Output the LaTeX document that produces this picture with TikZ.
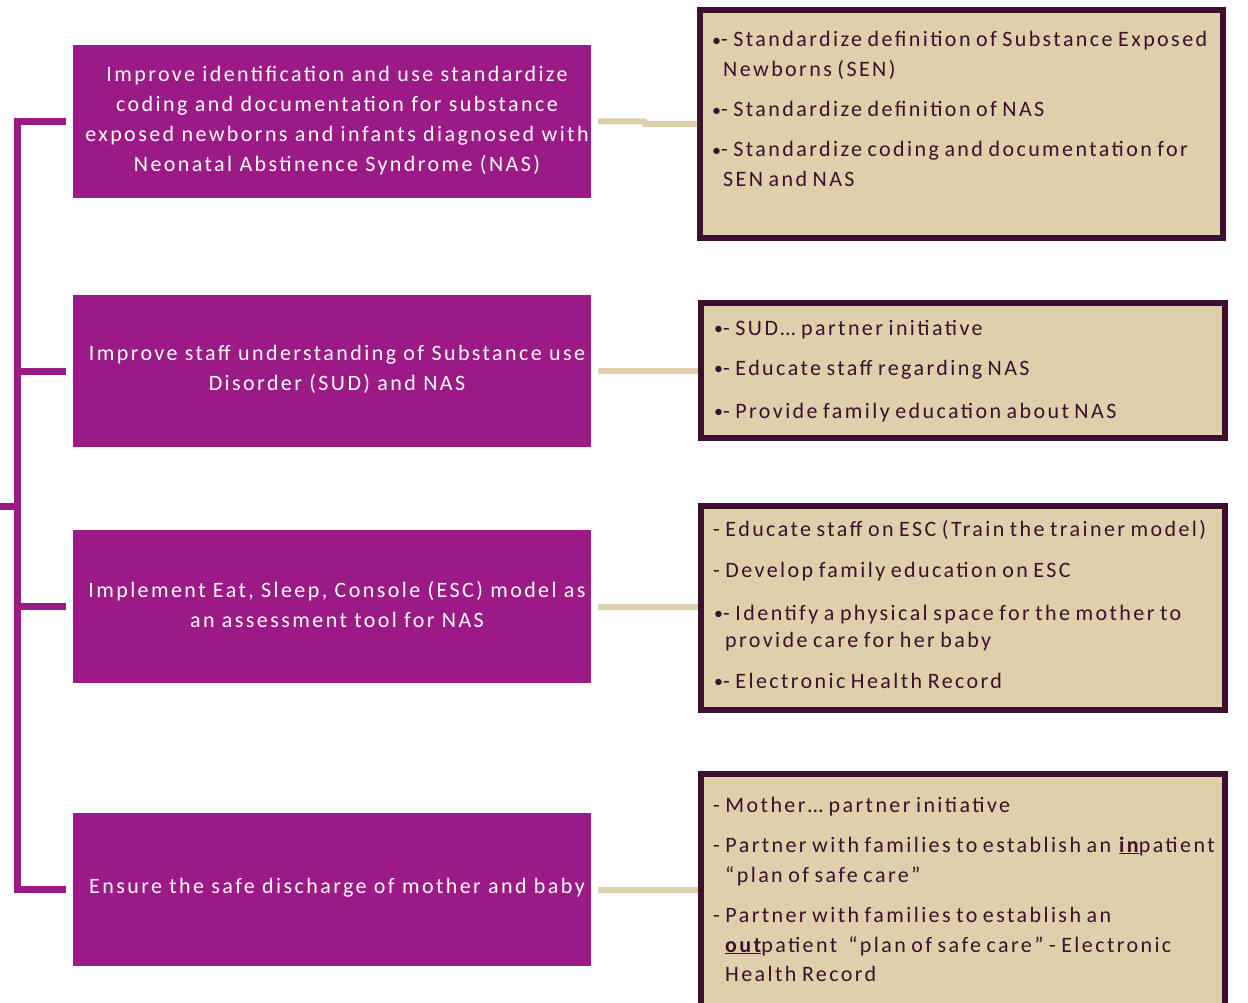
\documentclass[tikz,border=0pt]{standalone}
\usepackage{fontspec}
\setmainfont{Carlito}[LetterSpace=11,WordSpace=0.75]
\definecolor{plum}{RGB}{155,26,134}
\definecolor{tan}{RGB}{221,208,170}
\definecolor{wine}{RGB}{61,14,48}
\newcommand{\smbul}{{\fontsize{18}{18}\selectfont\raisebox{0.5pt}{•}}}
\begin{document}
\begin{tikzpicture}[x=1pt,y=-1pt,
  lbox/.style={fill=plum,draw=none,minimum width=518pt,inner sep=0pt},
  ltext/.style={text width=540pt,inner sep=0pt,align=center,text=white,font=\fontsize{22}{30}\selectfont},
  rbox/.style={fill=tan,draw=wine,line width=6pt},
  rtext/.style={anchor=base west,inner sep=0pt,text=wine,font=\fontsize{22}{30}\selectfont},
  conn/.style={draw=tan,line width=6pt},
  brk/.style={draw=plum,line width=7pt,line join=miter}]
\useasboundingbox (0,0) rectangle (1248,1003);
% left purple boxes
\node[lbox,minimum height=153pt] (l1) at (332,121.5) {};
\node[lbox,minimum height=152pt] (l2) at (332,371) {};
\node[lbox,minimum height=153pt] (l3) at (332,606.5) {};
\node[lbox,minimum height=153pt] (l4) at (332,889.5) {};
\node[ltext] (l1t) at ([xshift=5pt,yshift=1pt]l1.center) {Improve identification and use standardize\\coding and documentation for substance\\exposed newborns and infants diagnosed with\\Neonatal Abstinence Syndrome (NAS)};
\node[ltext] (l2t) at ([xshift=5pt,yshift=2pt]l2.center) {Improve staff understanding of Substance use\\Disorder (SUD) and NAS};
\node[ltext] (l3t) at ([xshift=5pt,yshift=2pt]l3.center) {Implement Eat, Sleep, Console (ESC) model as\\an assessment tool for NAS};
\node[ltext] (l4t) at ([xshift=5pt,yshift=2pt]l4.center) {Ensure the safe discharge of mother and baby};
% right boxes
\node[rbox,minimum width=523pt,minimum height=228pt] (r1) at (961.5,124) {};
\node[rbox,minimum width=524pt,minimum height=135pt] (r2) at (963,370.5) {};
\node[rbox,minimum width=524pt,minimum height=204pt] (r3) at (963,608) {};
\node[rbox,minimum width=524pt,minimum height=236pt] (r4) at (963,892) {};
% texts of right boxes
\node[rtext] (t1a) at (712,47) {\smbul- Standardize definition of Substance Exposed};
\node[rtext] (t1b) at (723,77) {Newborns (SEN)};
\node[rtext] (t1c) at (712,117) {\smbul- Standardize definition of NAS};
\node[rtext] (t1d) at (712,157) {\smbul- Standardize coding and documentation for};
\node[rtext] (t1e) at (723,187) {SEN and NAS};
\node[rtext] (t2a) at (714,335) {\smbul- SUD… partner initiative};
\node[rtext] (t2b) at (714,375) {\smbul- Educate staff regarding NAS};
\node[rtext] (t2c) at (714,418) {\smbul- Provide family education about NAS};
\node[rtext] (t3a) at (713,536) {- Educate staff on ESC (Train the trainer model)};
\node[rtext] (t3b) at (713,577) {- Develop family education on ESC};
\node[rtext] (t3c) at (714,620) {\smbul- Identify a physical space for the mother to};
\node[rtext] (t3d) at (725,647) {provide care for her baby};
\node[rtext] (t3e) at (714,688) {\smbul- Electronic Health Record};
\node[rtext] (t4a) at (713,812) {- Mother… partner initiative};
\node[rtext] (t4b) at (713,852) {- Partner with families to establish an \textbf{\underline{in}}patient};
\node[rtext] (t4c) at (725,882) {“plan of safe care”};
\node[rtext] (t4d) at (713,922) {- Partner with families to establish an};
\node[rtext] (t4e) at (725,952) {\textbf{\underline{out}}patient\ \ “plan of safe care” - Electronic};
\node[rtext] (t4f) at (725,981) {Health Record};
% connectors
\draw[conn] ([xshift=7pt]l1.east) -- ++(46,0) -- ([xshift=-52pt]r1.west) -- (r1.west);
\draw[conn] ([xshift=7pt]l2.east) -- (l2.east -| r2.west);
\draw[conn] ([xshift=7pt]l3.east) -- (l3.east -| r3.west);
\draw[conn] ([xshift=7pt]l4.east) -- (l4.east -| r4.west);
% bracket
\coordinate (spine) at (17.5,506);
\coordinate (stub) at (0,506);
\draw[brk] ([xshift=-7pt]l1.west) -- (l1.west -| spine) -- (l4.west -| spine) -- ([xshift=-7pt]l4.west);
\draw[brk] ([xshift=-7pt]l2.west) -- (l2.west -| spine);
\draw[brk] ([xshift=-7pt]l3.west) -- (l3.west -| spine);
\draw[brk] (spine) -- (stub);
\end{tikzpicture}
\end{document}
